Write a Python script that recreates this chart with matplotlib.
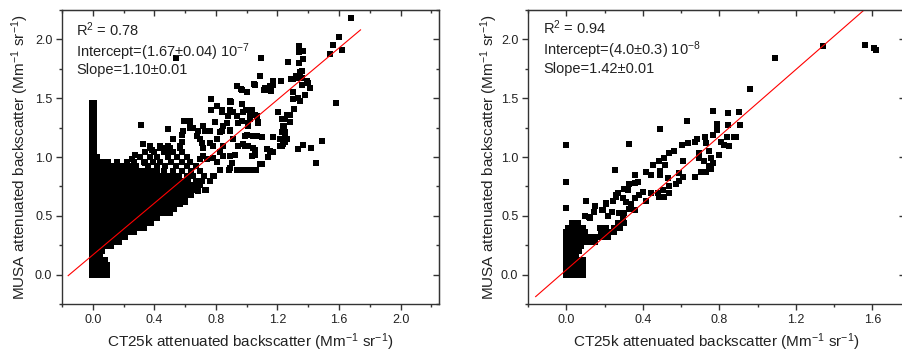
import matplotlib
matplotlib.use("Agg")
import matplotlib.pyplot as plt
from matplotlib.ticker import MultipleLocator

plt.rcParams['font.family'] = ['Liberation Sans', 'DejaVu Sans']
plt.rcParams['mathtext.default'] = 'regular'

# ---------------- left panel data (Mm-1 sr-1) ----------------
# narrow column of points at CT25k ~ 0
left_col_y = [0.00, 0.04, 0.08, 0.12, 0.16, 0.20, 0.24, 0.28, 0.32, 0.36, 0.40, 0.44,
              0.48, 0.52, 0.56, 0.60, 0.64, 0.68, 0.72, 0.76, 0.80, 0.84, 0.88, 0.92,
              0.96, 1.00, 1.04, 1.08, 1.12, 1.16, 1.20, 1.24, 1.28, 1.32, 1.36, 1.40,
              1.44, 1.46]

# dense cloud, read row by row (y level -> x positions)
left_rows_y = [0.00, 0.04, 0.08, 0.12, 0.16, 0.20, 0.24, 0.28, 0.32, 0.36, 0.40, 0.44,
               0.48, 0.52, 0.56, 0.60, 0.64, 0.68, 0.72, 0.76, 0.80, 0.84, 0.88, 0.92,
               0.96, 1.00, 1.04, 1.08]
left_rows_x = [
    [0.03, 0.06, 0.09],
    [0.03, 0.06, 0.09],
    [0.03, 0.06, 0.09],
    [0.03, 0.06, 0.08],
    [0.03, 0.05],
    [0.03, 0.06],
    [0.03, 0.06, 0.09, 0.12],
    [0.03, 0.06, 0.09, 0.12, 0.15, 0.17],
    [0.03, 0.06, 0.09, 0.12, 0.15, 0.18, 0.21],
    [0.03, 0.06, 0.09, 0.12, 0.15, 0.18, 0.21, 0.24, 0.27],
    [0.03, 0.06, 0.09, 0.12, 0.15, 0.18, 0.21, 0.24, 0.27, 0.30, 0.33],
    [0.03, 0.06, 0.09, 0.12, 0.15, 0.18, 0.21, 0.24, 0.27, 0.30, 0.33, 0.36, 0.38],
    [0.03, 0.06, 0.09, 0.12, 0.15, 0.18, 0.21, 0.24, 0.27, 0.30, 0.33, 0.36, 0.39, 0.42],
    [0.03, 0.06, 0.09, 0.12, 0.15, 0.18, 0.21, 0.24, 0.27, 0.30, 0.33, 0.36, 0.39, 0.42,
     0.45, 0.48, 0.50],
    [0.03, 0.06, 0.09, 0.12, 0.15, 0.18, 0.21, 0.24, 0.27, 0.30, 0.33, 0.36, 0.39, 0.42,
     0.45, 0.48, 0.51, 0.53],
    [0.03, 0.06, 0.09, 0.12, 0.15, 0.18, 0.21, 0.24, 0.27, 0.30, 0.33, 0.36, 0.39, 0.42,
     0.45, 0.48, 0.51, 0.54, 0.57],
    [0.03, 0.06, 0.09, 0.12, 0.15, 0.18, 0.21, 0.24, 0.27, 0.30, 0.33, 0.36, 0.39, 0.42,
     0.45, 0.48, 0.51, 0.54, 0.57, 0.60],
    [0.03, 0.06, 0.09, 0.12, 0.15, 0.18, 0.21, 0.24, 0.27, 0.30, 0.33, 0.36, 0.39, 0.42,
     0.45, 0.48, 0.51, 0.54, 0.57, 0.60, 0.64],
    [0.03, 0.06, 0.09, 0.12, 0.15, 0.18, 0.21, 0.24, 0.27, 0.30, 0.33, 0.36, 0.39, 0.42,
     0.45, 0.48, 0.51, 0.54, 0.57, 0.60, 0.63, 0.67, 0.73],
    [0.03, 0.06, 0.09, 0.12, 0.15, 0.18, 0.21, 0.24, 0.27, 0.30, 0.33, 0.36, 0.39, 0.42,
     0.45, 0.48, 0.51, 0.54, 0.57, 0.60, 0.63, 0.66, 0.70],
    [0.03, 0.06, 0.09, 0.12, 0.15, 0.18, 0.21, 0.24, 0.27, 0.30, 0.33, 0.36, 0.39, 0.42,
     0.45, 0.48, 0.51, 0.54, 0.58, 0.62, 0.67, 0.71, 0.76],
    [0.03, 0.06, 0.09, 0.12, 0.15, 0.18, 0.21, 0.24, 0.27, 0.30, 0.33, 0.36, 0.39, 0.42,
     0.45, 0.48, 0.52, 0.56, 0.61, 0.65, 0.72, 0.79],
    [0.03, 0.06, 0.09, 0.12, 0.15, 0.18, 0.21, 0.24, 0.27, 0.30, 0.33, 0.36, 0.39, 0.42,
     0.46, 0.52, 0.58, 0.64, 0.70],
    [0.03, 0.06, 0.09, 0.12, 0.15, 0.18, 0.21, 0.24, 0.28, 0.36, 0.42, 0.47, 0.54, 0.61,
     0.67],
    [0.03, 0.06, 0.10, 0.16, 0.22, 0.27, 0.33, 0.39, 0.44, 0.51, 0.58, 0.63],
    [0.03, 0.31, 0.37, 0.42, 0.49, 0.55, 0.61],
    [0.34, 0.40, 0.46, 0.52, 0.58],
    [0.37, 0.45, 0.50, 0.57],
]

# scattered points
left_pts_x = [1.677, 1.600, 1.558, 1.539, 1.619, 1.580, 1.340, 1.342, 1.368, 1.368,
              1.338, 1.266, 1.359, 1.329, 1.303, 1.357, 1.400, 1.411, 1.379, 1.346,
              1.303, 1.310, 1.281, 1.220, 1.249, 1.238, 1.227, 1.216, 1.249, 1.260,
              1.236, 1.216, 1.331, 1.368, 1.420, 1.489, 1.448, 1.093, 1.089, 1.169,
              1.119, 1.147, 1.173, 1.054, 1.000, 0.935, 0.961, 0.766, 0.892, 0.805,
              0.838, 0.766, 0.968, 0.996, 1.037, 0.913, 0.892, 0.881, 0.939, 0.968,
              1.022, 1.056, 1.071, 1.011, 0.989, 1.039, 1.011, 1.054, 1.035, 1.100,
              1.169, 1.130, 1.169, 1.141, 1.100, 1.061, 1.022, 0.989, 0.935, 0.885,
              0.903, 0.924, 0.946, 0.913, 0.892, 0.848, 0.827, 0.805, 0.784, 0.827,
              0.848, 0.784, 0.740, 0.719, 0.719, 0.697, 0.686, 0.654, 0.632, 0.595,
              0.632, 0.539, 0.312, 0.329, 0.491, 0.578, 0.524, 0.437, 0.383, 0.567,
              0.481, 0.275, 0.340, 0.253, 0.602, 0.734, 0.686, 0.784, 0.827, 0.654,
              0.610, 0.967, 1.050, 1.112, 1.151, 1.160, 1.290, 1.320, 1.346, 1.390,
              1.360, 1.300, 1.335, 1.378, 0.896, 0.967, 1.032, 0.838, 0.978, 1.020,
              1.065, 0.794, 0.870, 0.945, 1.010, 1.075, 1.205, 1.227, 1.260, 1.280,
              1.240, 1.250, 1.250, 1.227, 0.718, 0.762, 0.838, 0.890, 1.000, 1.054,
              1.097, 0.978, 1.043, 1.151, 1.054, 0.892, 0.697, 0.805, 0.892, 0.956,
              1.020, 1.086, 0.890, 0.588, 0.632, 0.675, 0.730, 0.762, 0.708, 0.578,
              0.490, 0.437, 0.372, 0.848, 0.990, 1.065]
left_pts_y = [2.18, 2.02, 1.95, 1.88, 1.91, 1.46, 1.94, 1.89, 1.90, 1.83,
              1.80, 1.81, 1.73, 1.67, 1.66, 1.67, 1.63, 1.59, 1.53, 1.48,
              1.49, 1.41, 1.36, 1.65, 1.32, 1.26, 1.21, 1.15, 1.18, 1.15,
              1.11, 1.09, 1.07, 1.10, 1.08, 1.14, 0.95, 1.84, 1.69, 1.65,
              1.59, 1.57, 1.61, 1.61, 1.55, 1.60, 1.58, 1.49, 1.47, 1.43,
              1.40, 1.40, 1.45, 1.40, 1.39, 1.38, 1.40, 1.35, 1.35, 1.31,
              1.32, 1.36, 1.29, 1.26, 1.18, 1.18, 1.09, 1.06, 1.01, 1.17,
              1.17, 1.07, 1.04, 1.00, 0.94, 0.89, 0.89, 0.89, 0.89, 0.89,
              0.95, 1.02, 1.09, 1.15, 1.22, 1.26, 1.21, 1.15, 1.09, 1.04,
              1.01, 0.99, 0.98, 1.01, 1.08, 1.15, 1.22, 1.25, 1.25, 1.31,
              1.31, 1.84, 1.27, 1.11, 1.24, 1.19, 1.15, 1.09, 1.06, 1.09,
              1.04, 1.02, 0.95, 0.98, 0.62, 0.72, 0.71, 0.84, 0.89, 0.84,
              0.81, 1.57, 1.62, 1.57, 1.60, 1.56, 1.66, 1.69, 1.72, 1.645,
              1.61, 1.55, 1.50, 1.53, 1.47, 1.45, 1.40, 1.38, 1.38, 1.36,
              1.35, 1.30, 1.29, 1.29, 1.29, 1.30, 1.38, 1.32, 1.36, 1.30,
              1.26, 1.21, 1.13, 1.09, 1.26, 1.22, 1.22, 1.23, 1.19, 1.18,
              1.17, 1.11, 1.08, 1.05, 1.02, 1.007, 0.98, 0.96, 0.91, 0.89,
              0.89, 0.94, 1.475, 1.22, 1.26, 1.18, 1.22, 1.12, 1.12, 1.13,
              1.09, 1.08, 1.09, 1.09, 1.09, 1.18]

left_fit = (0.167, 1.10)   # intercept, slope in Mm-1 sr-1
left_fit_x = [-0.16, 1.74]

# ---------------- right panel data ----------------
right_rows_y = [0.00, 0.04, 0.08, 0.12, 0.16, 0.20, 0.24, 0.28, 0.32, 0.36, 0.40, 0.44]
right_rows_x = [
    [0.0, 0.025, 0.05, 0.075, 0.09],
    [0.0, 0.025, 0.05, 0.075, 0.09],
    [0.0, 0.025, 0.05, 0.075, 0.09],
    [0.0, 0.025, 0.05, 0.075, 0.09],
    [0.0, 0.025, 0.05],
    [0.0, 0.025, 0.05, 0.065],
    [0.0, 0.025, 0.05, 0.075],
    [0.0, 0.025, 0.05, 0.075, 0.10, 0.125, 0.15],
    [0.0, 0.025, 0.05, 0.075, 0.10, 0.125, 0.15, 0.175, 0.20, 0.22],
    [0.0, 0.025, 0.05, 0.075, 0.10, 0.18, 0.20, 0.225, 0.25],
    [0.01, 0.035, 0.06, 0.085, 0.19, 0.21, 0.25, 0.28],
    [0.03, 0.06, 0.27, 0.30],
]

right_pts_x = [1.560, 1.609, 1.617, 1.339, 1.090, 0.960, 0.000, 0.000, 0.000, 0.767,
               0.847, 0.904, 0.633, 0.492, 0.329, 0.257, 0.786, 0.843, 0.907, 0.765,
               0.790, 0.839, 0.879, 0.887, 0.809, 0.826, 0.849, 0.725, 0.682, 0.673,
               0.638, 0.603, 0.562, 0.539, 0.513, 0.483, 0.452, 0.417, 0.443, 0.490,
               0.518, 0.490, 0.357, 0.374, 0.330, 0.304, 0.322, 0.730, 0.696, 0.748,
               0.696, 0.722, 0.757, 0.765, 0.744, 0.757, 0.730, 0.704, 0.675, 0.797,
               0.609, 0.530, 0.588, 0.609, 0.591, 0.574, 0.539, 0.504, 0.478, 0.513,
               0.539, 0.487, 0.443, 0.403, 0.417, 0.357, 0.339, 0.313, 0.296, 0.261,
               0.270, 0.243, 0.205, 0.188, 0.148, 0.143, 0.104, 0.099, 0.122, 0.240,
               0.217, 0.296, 0.304, 0.330, 0.357, 0.120, 0.174, 0.190, 0.210, 0.260,
               0.313, 0.360, 0.278, 0.380]
right_pts_y = [1.95, 1.93, 1.91, 1.94, 1.84, 1.58, 1.10, 0.79, 0.57, 1.39,
               1.37, 1.38, 1.31, 1.24, 1.11, 0.89, 1.28, 1.27, 1.27, 1.19,
               1.23, 1.17, 1.17, 1.17, 1.13, 1.10, 1.09, 1.17, 1.15, 1.13,
               1.12, 1.10, 1.05, 1.03, 0.99, 0.97, 0.93, 0.87, 0.85, 0.88,
               0.93, 0.85, 0.85, 0.79, 0.77, 0.73, 0.72, 1.12, 1.03, 1.05,
               0.99, 0.97, 0.99, 0.95, 0.92, 0.90, 0.87, 0.87, 0.83, 1.02,
               0.97, 0.82, 0.86, 0.83, 0.80, 0.77, 0.75, 0.72, 0.69, 0.66,
               0.69, 0.66, 0.69, 0.70, 0.63, 0.65, 0.60, 0.62, 0.65, 0.66,
               0.69, 0.63, 0.61, 0.55, 0.58, 0.53, 0.63, 0.50, 0.48, 0.53,
               0.50, 0.48, 0.52, 0.56, 0.55, 0.49, 0.40, 0.55, 0.60, 0.675,
               0.73, 0.78, 0.52, 0.675]

right_fit = (0.04, 1.42)
right_fit_x = [-0.16, 1.74]

# ---------------- drawing ----------------
ink = '#222222'
ms = 4.7
fig = plt.figure(figsize=(9.02, 3.52), dpi=100)
ax1 = fig.add_axes([62 / 902, 48 / 352, 377 / 902, 294 / 352])
ax2 = fig.add_axes([528 / 902, 48 / 352, 377 / 902, 294 / 352])

def draw_rows(ax, rows_y, rows_x):
    for y, xs in zip(rows_y, rows_x):
        ax.plot(xs, [y] * len(xs), 's', color='black', ms=ms, mew=0)

# left
ax1.plot([-0.007] * len(left_col_y), left_col_y, 's', color='black', ms=ms, mew=0)
ax1.plot([0.007] * len(left_col_y), left_col_y, 's', color='black', ms=ms, mew=0)
draw_rows(ax1, left_rows_y, left_rows_x)
ax1.plot(left_pts_x, left_pts_y, 's', color='black', ms=ms, mew=0)
ax1.plot(left_fit_x, [left_fit[0] + left_fit[1] * x for x in left_fit_x],
         color='#ff0000', lw=0.8)

# right
draw_rows(ax2, right_rows_y, right_rows_x)
ax2.plot(right_pts_x, right_pts_y, 's', color='black', ms=ms, mew=0)
ax2.plot(right_fit_x, [right_fit[0] + right_fit[1] * x for x in right_fit_x],
         color='#ff0000', lw=0.8)

ax1.set_xlim(-0.2, 2.25)
ax2.set_xlim(-0.2, 1.77)
ax1.set_xticks([0.0, 0.4, 0.8, 1.2, 1.6, 2.0])
ax2.set_xticks([0.0, 0.4, 0.8, 1.2, 1.6])

for ax in (ax1, ax2):
    ax.set_ylim(-0.25, 2.25)
    ax.set_yticks([0.0, 0.5, 1.0, 1.5, 2.0])
    ax.xaxis.set_minor_locator(MultipleLocator(0.2))
    ax.yaxis.set_minor_locator(MultipleLocator(0.25))
    ax.xaxis.set_major_formatter(plt.FormatStrFormatter('%.1f'))
    ax.yaxis.set_major_formatter(plt.FormatStrFormatter('%.1f'))
    for sp in ax.spines.values():
        sp.set_color('#333333')
        sp.set_linewidth(1.0)
    ax.tick_params(which='both', direction='out', top=False, right=False,
                   colors='#333333', labelcolor=ink, labelsize=9, pad=3)
    ax.tick_params(which='major', length=4, width=1.0)
    ax.tick_params(which='minor', length=2.5, width=1.0)
    # inward ticks on top and right
    top = ax.secondary_xaxis('top')
    top.set_xticks(ax.get_xticks())
    top.xaxis.set_minor_locator(MultipleLocator(0.2))
    top.tick_params(which='both', direction='in', labeltop=False, colors='#333333')
    top.tick_params(which='major', length=4, width=1.0)
    top.tick_params(which='minor', length=2.5, width=1.0)
    top.spines['top'].set_color('#333333')
    right = ax.secondary_yaxis('right')
    right.set_yticks([0.0, 0.5, 1.0, 1.5, 2.0])
    right.yaxis.set_minor_locator(MultipleLocator(0.25))
    right.tick_params(which='both', direction='in', labelright=False, colors='#333333')
    right.tick_params(which='major', length=4, width=1.0)
    right.tick_params(which='minor', length=2.5, width=1.0)
    right.spines['right'].set_color('#333333')

    ax.set_xlabel('CT25k attenuated backscatter (Mm$^{-1}$ sr$^{-1}$)', fontsize=11, color=ink)
    ax.set_ylabel('MUSA attenuated backscatter (Mm$^{-1}$ sr$^{-1}$)', fontsize=11, color=ink)

ax1.xaxis.set_label_coords(0.5, -0.092)
ax2.xaxis.set_label_coords(0.5, -0.092)
ax1.yaxis.set_label_coords(-0.083, 0.5)
ax2.yaxis.set_label_coords(-0.073, 0.5)

txt = dict(fontsize=10.5, color=ink, va='baseline', ha='left')
ax1.text(0.037, 0.912, 'R$^2$ = 0.78', transform=ax1.transAxes, **txt)
ax1.text(0.037, 0.84, 'Intercept=(1.67±0.04) 10$^{-7}$', transform=ax1.transAxes, **txt)
ax1.text(0.037, 0.782, 'Slope=1.10±0.01', transform=ax1.transAxes, **txt)
ax2.text(0.04, 0.918, 'R$^2$ = 0.94', transform=ax2.transAxes, **txt)
ax2.text(0.04, 0.847, 'Intercept=(4.0±0.3) 10$^{-8}$', transform=ax2.transAxes, **txt)
ax2.text(0.04, 0.786, 'Slope=1.42±0.01', transform=ax2.transAxes, **txt)

fig.savefig('out.png', dpi=100)
